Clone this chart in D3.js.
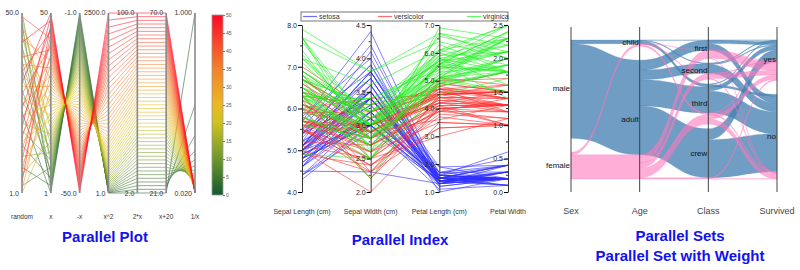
<!DOCTYPE html>
<html>
<head>
<meta charset="utf-8">
<script src="https://cdn.jsdelivr.net/npm/d3@7"></script>
<style>
body { margin: 0; background: #fff; }
svg { font-family: "Liberation Sans", Arial, sans-serif; }
</style>
</head>
<body>
<script>
// ---------- data: parallel plot ----------
var xs = d3.range(1, 51);
var randomVals = [23, 47, 8, 35, 14, 41, 29, 3, 50, 18, 37, 11, 26, 44, 6, 32, 20, 48, 1, 39,
                  15, 27, 9, 45, 22, 33, 12, 40, 5, 30, 17, 46, 25, 2, 36, 13, 43, 21, 7, 38,
                  28, 16, 49, 10, 34, 24, 4, 42, 19, 31];
var plotAxes = ['random', 'x', '-x', 'x^2', '2*x', 'x+20', '1/x'];
var plotTop = ['50.0', '50', '-1.0', '2500.0', '100.0', '70.0', '1.000'];
var plotBottom = ['1.0', '1', '-50.0', '1.0', '2.0', '21.0', '0.020'];
var colorTicks = [0, 5, 10, 15, 20, 25, 30, 35, 40, 45, 50];
var colorStops = [0, 10, 20, 25, 35, 50];
var colorRange = ['#14592e', '#6c972a', '#cdc11f', '#ebb922', '#f3822a', '#ff0a26'];

// ---------- data: iris ----------
var irisDims = ['Sepal Length (cm)', 'Sepal Width (cm)', 'Petal Length (cm)', 'Petal Width'];
var irisDomains = [[4, 8], [2, 4.5], [1, 7], [0, 2.5]];
var irisSteps = [1, 0.5, 1, 0.5];
var species = ['setosa', 'versicolor', 'virginica'];
var setosa = [[5.1,3.5,1.4,0.2],[4.9,3.0,1.4,0.2],[4.7,3.2,1.3,0.2],[4.6,3.1,1.5,0.2],[5.0,3.6,1.4,0.2],
[5.4,3.9,1.7,0.4],[4.6,3.4,1.4,0.3],[5.0,3.4,1.5,0.2],[4.4,2.9,1.4,0.2],[4.9,3.1,1.5,0.1],
[5.4,3.7,1.5,0.2],[4.8,3.4,1.6,0.2],[4.8,3.0,1.4,0.1],[4.3,3.0,1.1,0.1],[5.8,4.0,1.2,0.2],
[5.7,4.4,1.5,0.4],[5.4,3.9,1.3,0.4],[5.1,3.5,1.4,0.3],[5.7,3.8,1.7,0.3],[5.1,3.8,1.5,0.3],
[5.4,3.4,1.7,0.2],[5.1,3.7,1.5,0.4],[4.6,3.6,1.0,0.2],[5.1,3.3,1.7,0.5],[4.8,3.4,1.9,0.2],
[5.0,3.0,1.6,0.2],[5.0,3.4,1.6,0.4],[5.2,3.5,1.5,0.2],[5.2,3.4,1.4,0.2],[4.7,3.2,1.6,0.2],
[4.8,3.1,1.6,0.2],[5.4,3.4,1.5,0.4],[5.2,4.1,1.5,0.1],[5.5,4.2,1.4,0.2],[4.9,3.1,1.5,0.2],
[5.0,3.2,1.2,0.2],[5.5,3.5,1.3,0.2],[4.9,3.6,1.4,0.1],[4.4,3.0,1.3,0.2],[5.1,3.4,1.5,0.2],
[5.0,3.5,1.3,0.3],[4.5,2.3,1.3,0.3],[4.4,3.2,1.3,0.2],[5.0,3.5,1.6,0.6],[5.1,3.8,1.9,0.4],
[4.8,3.0,1.4,0.3],[5.1,3.8,1.6,0.2],[4.6,3.2,1.4,0.2],[5.3,3.7,1.5,0.2],[5.0,3.3,1.4,0.2]];
var versicolor = [[7.0,3.2,4.7,1.4],[6.4,3.2,4.5,1.5],[6.9,3.1,4.9,1.5],[5.5,2.3,4.0,1.3],[6.5,2.8,4.6,1.5],
[5.7,2.8,4.5,1.3],[6.3,3.3,4.7,1.6],[4.9,2.4,3.3,1.0],[6.6,2.9,4.6,1.3],[5.2,2.7,3.9,1.4],
[5.0,2.0,3.5,1.0],[5.9,3.0,4.2,1.5],[6.0,2.2,4.0,1.0],[6.1,2.9,4.7,1.4],[5.6,2.9,3.6,1.3],
[6.7,3.1,4.4,1.4],[5.6,3.0,4.5,1.5],[5.8,2.7,4.1,1.0],[6.2,2.2,4.5,1.5],[5.6,2.5,3.9,1.1],
[5.9,3.2,4.8,1.8],[6.1,2.8,4.0,1.3],[6.3,2.5,4.9,1.5],[6.1,2.8,4.7,1.2],[6.4,2.9,4.3,1.3],
[6.6,3.0,4.4,1.4],[6.8,2.8,4.8,1.4],[6.7,3.0,5.0,1.7],[6.0,2.9,4.5,1.5],[5.7,2.6,3.5,1.0],
[5.5,2.4,3.8,1.1],[5.5,2.4,3.7,1.0],[5.8,2.7,3.9,1.2],[6.0,2.7,5.1,1.6],[5.4,3.0,4.5,1.5],
[6.0,3.4,4.5,1.6],[6.7,3.1,4.7,1.5],[6.3,2.3,4.4,1.3],[5.6,3.0,4.1,1.3],[5.5,2.5,4.0,1.3],
[5.5,2.6,4.4,1.2],[6.1,3.0,4.6,1.4],[5.8,2.6,4.0,1.2],[5.0,2.3,3.3,1.0],[5.6,2.7,4.2,1.3],
[5.7,3.0,4.2,1.2],[5.7,2.9,4.2,1.3],[6.2,2.9,4.3,1.3],[5.1,2.5,3.0,1.1],[5.7,2.8,4.1,1.3]];
var virginica = [[6.3,3.3,6.0,2.5],[5.8,2.7,5.1,1.9],[7.1,3.0,5.9,2.1],[6.3,2.9,5.6,1.8],[6.5,3.0,5.8,2.2],
[7.6,3.0,6.6,2.1],[4.9,2.5,4.5,1.7],[7.3,2.9,6.3,1.8],[6.7,2.5,5.8,1.8],[7.2,3.6,6.1,2.5],
[6.5,3.2,5.1,2.0],[6.4,2.7,5.3,1.9],[6.8,3.0,5.5,2.1],[5.7,2.5,5.0,2.0],[5.8,2.8,5.1,2.4],
[6.4,3.2,5.3,2.3],[6.5,3.0,5.5,1.8],[7.7,3.8,6.7,2.2],[7.7,2.6,6.9,2.3],[6.0,2.2,5.0,1.5],
[6.9,3.2,5.7,2.3],[5.6,2.8,4.9,2.0],[7.7,2.8,6.7,2.0],[6.3,2.7,4.9,1.8],[6.7,3.3,5.7,2.1],
[7.2,3.2,6.0,1.8],[6.2,2.8,4.8,1.8],[6.1,3.0,4.9,1.8],[6.4,2.8,5.6,2.1],[7.2,3.0,5.8,1.6],
[7.4,2.8,6.1,1.9],[7.9,3.8,6.4,2.0],[6.4,2.8,5.6,2.2],[6.3,2.8,5.1,1.5],[6.1,2.6,5.6,1.4],
[7.7,3.0,6.1,2.3],[6.3,3.4,5.6,2.4],[6.4,3.1,5.5,1.8],[6.0,3.0,4.8,1.8],[6.9,3.1,5.4,2.1],
[6.7,3.1,5.6,2.4],[6.9,3.1,5.1,2.3],[5.8,2.7,5.1,1.9],[6.8,3.2,5.9,2.3],[6.7,3.3,5.7,2.5],
[6.7,3.0,5.2,2.3],[6.3,2.5,5.0,1.9],[6.5,3.0,5.2,2.0],[6.2,3.4,5.4,2.3],[5.9,3.0,5.1,1.8]];
var speciesColors = ['#2f2fff', '#ff2f2f', '#22f022'];

// ---------- data: titanic ----------
var setDims = ['Sex', 'Age', 'Class', 'Survived'];
var setCats = [['male', 'female'], ['child', 'adult'], ['first', 'second', 'third', 'crew'], ['yes', 'no']];
var titanic = [
  ['male','child','first','yes',5], ['male','child','second','yes',11], ['male','child','third','yes',13],
  ['male','child','third','no',35],
  ['male','adult','first','yes',57], ['male','adult','first','no',118],
  ['male','adult','second','yes',14], ['male','adult','second','no',154],
  ['male','adult','third','yes',75], ['male','adult','third','no',387],
  ['male','adult','crew','yes',192], ['male','adult','crew','no',670],
  ['female','child','first','yes',1], ['female','child','second','yes',13],
  ['female','child','third','yes',14], ['female','child','third','no',17],
  ['female','adult','first','yes',140], ['female','adult','first','no',4],
  ['female','adult','second','yes',80], ['female','adult','second','no',13],
  ['female','adult','third','yes',76], ['female','adult','third','no',89],
  ['female','adult','crew','yes',20], ['female','adult','crew','no',3]
];
var sexColors = ['steelblue', '#ff78bd'];

var titles = [
  { text: 'Parallel Plot', x: 105, y: 242 },
  { text: 'Parallel Index', x: 400, y: 245 },
  { text: 'Parallel Sets', x: 680, y: 241 },
  { text: 'Parallel Set with Weight', x: 680, y: 261 }
];

var svg = d3.select('body').append('svg').attr('width', 800).attr('height', 270);

// ================= Parallel Plot =================
var p1 = svg.append('g');
var p1x = d3.scalePoint().domain(plotAxes).range([22, 195]);
var p1Domains = [[1, 50], [1, 50], [-50, -1], [1, 2500], [2, 100], [21, 70], [0.02, 1]];
var p1Fns = [
  (v, i) => randomVals[i], v => v, v => -v, v => v * v, v => 2 * v, v => v + 20, v => 1 / v
];
var p1y = p1Domains.map(d => d3.scaleLinear().domain(d).range([193, 13]));
var heat = d3.scaleLinear().domain(colorStops).range(colorRange);

var line1 = d3.line();
p1.selectAll('path.pp')
  .data(xs).enter().append('path')
  .attr('class', 'pp')
  .attr('d', (v, i) => line1(plotAxes.map((a, j) => [p1x(a), p1y[j](p1Fns[j](v, i))])))
  .attr('fill', 'none')
  .attr('stroke', v => heat(v))
  .attr('stroke-opacity', 0.55)
  .attr('stroke-width', 1);

p1.selectAll('line.ax')
  .data(plotAxes).enter().append('line')
  .attr('class', 'ax')
  .attr('x1', d => p1x(d)).attr('x2', d => p1x(d))
  .attr('y1', 13).attr('y2', 193)
  .attr('stroke', '#8a8a8a').attr('stroke-width', 1.6);

p1.selectAll('text.top')
  .data(plotTop).enter().append('text')
  .attr('x', (d, i) => p1x(plotAxes[i]) - 3).attr('y', 15)
  .attr('text-anchor', 'end').attr('font-size', 7).attr('fill', '#333')
  .text(d => d);
p1.selectAll('text.bot')
  .data(plotBottom).enter().append('text')
  .attr('x', (d, i) => p1x(plotAxes[i]) - 3).attr('y', 196)
  .attr('text-anchor', 'end').attr('font-size', 7).attr('fill', '#333')
  .text(d => d);
p1.selectAll('text.name')
  .data(plotAxes).enter().append('text')
  .attr('x', d => p1x(d)).attr('y', 219)
  .attr('text-anchor', 'middle').attr('font-size', 6.5).attr('fill', '#333')
  .text(d => d);

// colour bar
var grad = svg.append('defs').append('linearGradient')
  .attr('id', 'heat').attr('x1', 0).attr('x2', 0).attr('y1', 1).attr('y2', 0);
grad.selectAll('stop').data(colorStops).enter().append('stop')
  .attr('offset', d => d / 50).attr('stop-color', d => heat(d));
var cbY = d3.scaleLinear().domain([0, 50]).range([195, 15]);
p1.append('rect').attr('x', 212).attr('y', 15).attr('width', 11).attr('height', 180)
  .attr('fill', 'url(#heat)').attr('stroke', '#999').attr('stroke-width', 0.8);
p1.append('g').attr('transform', 'translate(223,0)')
  .call(d3.axisRight(cbY).tickValues(colorTicks).tickSize(2).tickPadding(1))
  .call(g => g.select('.domain').remove())
  .call(g => g.selectAll('line').attr('stroke', '#777'))
  .call(g => g.selectAll('text').attr('font-size', 5).attr('fill', '#555').attr('font-family', 'Liberation Sans'));

// ================= Parallel Index =================
var p2 = svg.append('g');
var p2x = d3.scalePoint().domain(irisDims).range([302, 508]);
var p2y = irisDomains.map(d => d3.scaleLinear().domain(d).range([192, 25]));
var line2 = d3.line();
[setosa, versicolor, virginica].forEach(function(rows, s) {
  p2.selectAll('path.s' + s)
    .data(rows).enter().append('path')
    .attr('d', r => line2(r.map((v, j) => [p2x(irisDims[j]), p2y[j](v)])))
    .attr('fill', 'none')
    .attr('stroke', speciesColors[s])
    .attr('stroke-opacity', 0.6)
    .attr('stroke-width', 1);
});
irisDims.forEach(function(dim, j) {
  var dom = irisDomains[j], st = irisSteps[j];
  var major = d3.range(dom[0], dom[1] + st / 2, st);
  var minor = d3.range(dom[0] + st / 2, dom[1], st);
  var g = p2.append('g').attr('transform', 'translate(' + p2x(dim) + ',0)');
  g.call(d3.axisLeft(p2y[j]).tickValues(major).tickFormat(d3.format('.1f')).tickSize(4).tickSizeOuter(0).tickPadding(1))
    .call(a => a.selectAll('text').attr('font-size', 7).attr('fill', '#222').attr('font-family', 'Liberation Sans'))
    .call(a => a.select('.domain').attr('stroke', '#333'));
  g.selectAll('line.minor').data(minor).enter().append('line')
    .attr('x1', -2).attr('x2', 0)
    .attr('y1', d => p2y[j](d)).attr('y2', d => p2y[j](d))
    .attr('stroke', '#333');
});
p2.selectAll('text.name')
  .data(irisDims).enter().append('text')
  .attr('x', d => p2x(d)).attr('y', 214)
  .attr('text-anchor', 'middle').attr('font-size', 7).attr('fill', '#333')
  .text(d => d);

// legend
var lg = p2.append('g');
lg.append('rect').attr('x', 301).attr('y', 12).attr('width', 207).attr('height', 9)
  .attr('fill', '#fff').attr('stroke', '#555').attr('stroke-width', 0.8);
var legendX = [303, 378, 467];
lg.selectAll('line.lg').data(species).enter().append('line')
  .attr('x1', (d, i) => legendX[i]).attr('x2', (d, i) => legendX[i] + 14)
  .attr('y1', 16.5).attr('y2', 16.5)
  .attr('stroke', (d, i) => speciesColors[i]).attr('stroke-opacity', 0.7).attr('stroke-width', 1.2);
lg.selectAll('text.lg').data(species).enter().append('text')
  .attr('x', (d, i) => legendX[i] + 16).attr('y', 19)
  .attr('font-size', 7).attr('fill', '#333')
  .text(d => d);

// ================= Parallel Sets =================
var p3 = svg.append('g');
var p3x = d3.scalePoint().domain(setDims).range([571, 777]);
var bandTop = 40, bandBottom = 179, spacing = 14;
var total = d3.sum(titanic, r => r[4]);
var k = (bandBottom - bandTop - spacing) / total;
// category positions per dimension (spacing shared among the gaps)
var catPos = setCats.map(function(cats, d) {
  var y = bandTop, pos = {}, gap = spacing / (cats.length - 1);
  cats.forEach(function(c) {
    var n = d3.sum(titanic.filter(r => r[d] === c), r => r[4]);
    pos[c] = { y: y, h: n * k };
    y += n * k + gap;
  });
  return pos;
});
// ribbons between neighbouring dimensions, split by the full path
var ribbons = [];
for (var d = 0; d < setDims.length - 1; d++) {
  var groups = d3.rollups(titanic, v => d3.sum(v, r => r[4]), ...d3.range(d + 2).map(i => (r => r[i])));
  var flat = [];
  (function walk(node, path, depth) {
    if (depth === d + 2) { flat.push({ path: path, n: node }); return; }
    var m = new Map(node);
    setCats[depth].forEach(function(c) { if (m.has(c)) walk(m.get(c), path.concat(c), depth + 1); });
  })(groups, [], 0);
  var srcOff = {}, tgtOff = {};
  flat.forEach(function(f) {
    var a = f.path[d], b = f.path[d + 1], h = f.n * k;
    var so = srcOff[a] || 0, to = tgtOff[b] || 0;
    ribbons.push({
      sex: f.path[0], x0: p3x(setDims[d]), x1: p3x(setDims[d + 1]),
      y0: catPos[d][a].y + so, y1: catPos[d + 1][b].y + to, h: h
    });
    srcOff[a] = so + h; tgtOff[b] = to + h;
  });
}
function ribbonPath(r) {
  var xm = (r.x0 + r.x1) / 2;
  return 'M' + r.x0 + ',' + r.y0 +
    'C' + xm + ',' + r.y0 + ' ' + xm + ',' + r.y1 + ' ' + r.x1 + ',' + r.y1 +
    'L' + r.x1 + ',' + (r.y1 + r.h) +
    'C' + xm + ',' + (r.y1 + r.h) + ' ' + xm + ',' + (r.y0 + r.h) + ' ' + r.x0 + ',' + (r.y0 + r.h) + 'Z';
}
p3.selectAll('path.rb')
  .data(ribbons).enter().append('path')
  .attr('d', ribbonPath)
  .attr('fill', r => sexColors[setCats[0].indexOf(r.sex)])
  .attr('fill-opacity', r => r.sex === 'male' ? 0.78 : 0.6)
  .attr('stroke', r => sexColors[setCats[0].indexOf(r.sex)])
  .attr('stroke-opacity', 0.5)
  .attr('stroke-width', 0.5);

p3.selectAll('line.ax')
  .data(setDims).enter().append('line')
  .attr('x1', d => p3x(d)).attr('x2', d => p3x(d))
  .attr('y1', 27).attr('y2', 192)
  .attr('stroke', '#444').attr('stroke-width', 1);
setCats.forEach(function(cats, d) {
  p3.selectAll('text.c' + d)
    .data(cats).enter().append('text')
    .attr('x', p3x(setDims[d]) - 1)
    .attr('y', c => catPos[d][c].y + catPos[d][c].h / 2 + 2)
    .attr('text-anchor', 'end').attr('font-size', 8).attr('fill', '#111')
    .text(c => c);
});
p3.selectAll('text.name')
  .data(setDims).enter().append('text')
  .attr('x', d => p3x(d)).attr('y', 214)
  .attr('text-anchor', 'middle').attr('font-size', 9).attr('fill', '#444')
  .text(d => d);

// ================= titles =================
svg.selectAll('text.title')
  .data(titles).enter().append('text')
  .attr('x', d => d.x).attr('y', d => d.y)
  .attr('text-anchor', 'middle')
  .attr('font-size', 15).attr('font-weight', 'bold').attr('fill', '#1212ee')
  .text(d => d.text);
</script>
</body>
</html>
